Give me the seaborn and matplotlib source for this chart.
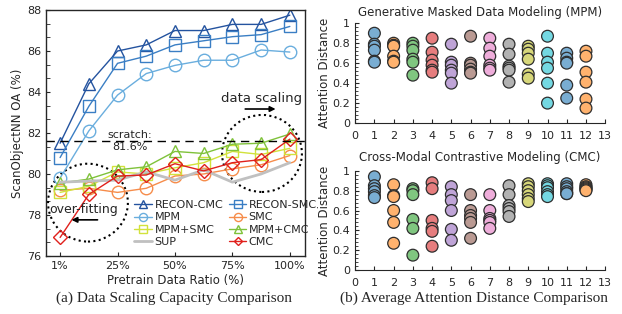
import numpy as np
import pandas as pd
import matplotlib
matplotlib.use("Agg")
import matplotlib.pyplot as plt
import seaborn as sns
from matplotlib.patches import Ellipse
from matplotlib.ticker import MultipleLocator

# -------- Data: (a) data scaling --------
ratio_labels = ["1%", "25%", "50%", "75%", "100%"]
ratio_steps = [0, 1, 2, 3, 4, 5, 6, 7, 8]   # 1%, 12.5%, ..., 100%

recon_cmc = [81.5, 84.4, 86.0, 86.3, 87.0, 87.0, 87.3, 87.3, 87.75]
recon_smc = [80.8, 83.3, 85.4, 85.75, 86.3, 86.5, 86.7, 86.8, 87.2]
mpm       = [79.8, 82.1, 83.85, 84.9, 85.3, 85.55, 85.55, 86.05, 85.95]
smc       = [79.2, 79.3, 79.1, 79.3, 79.9, 80.0, 80.25, 80.45, 80.9]
mpm_smc   = [79.1, 79.4, 80.1, 80.0, 80.3, 80.55, 81.1, 80.95, 81.25]
mpm_cmc   = [79.55, 79.75, 80.2, 80.35, 81.1, 81.0, 81.45, 81.5, 81.95]
sup       = [79.6, 79.65, 79.7, 80.1, 79.7, 80.2, 79.6, 80.0, 80.55]
cmc       = [76.9, 79.0, 79.9, 79.95, 80.5, 80.15, 80.55, 80.7, 81.7]
scratch = 81.6

# -------- Data: (b) attention distance per layer --------
layers = list(range(1, 13))
mpm_dist = [
    [0.90, 0.79, 0.77, 0.73, 0.62, 0.61],
    [0.80, 0.78, 0.77, 0.67, 0.62, 0.61],
    [0.80, 0.77, 0.73, 0.64, 0.61, 0.48],
    [0.85, 0.71, 0.63, 0.58, 0.53, 0.51],
    [0.79, 0.61, 0.58, 0.53, 0.50, 0.40],
    [0.87, 0.60, 0.58, 0.54, 0.51, 0.50],
    [0.85, 0.75, 0.67, 0.58, 0.55, 0.53],
    [0.79, 0.69, 0.57, 0.55, 0.53, 0.41],
    [0.77, 0.74, 0.70, 0.64, 0.49, 0.45],
    [0.87, 0.70, 0.61, 0.55, 0.40, 0.20],
    [0.70, 0.65, 0.61, 0.60, 0.38, 0.25],
    [0.72, 0.67, 0.51, 0.41, 0.24, 0.15],
]
cmc_dist = [
    [0.94, 0.85, 0.82, 0.79, 0.75, 0.73],
    [0.86, 0.75, 0.74, 0.60, 0.48, 0.27],
    [0.82, 0.80, 0.76, 0.51, 0.42, 0.15],
    [0.88, 0.82, 0.50, 0.42, 0.39, 0.24],
    [0.84, 0.76, 0.70, 0.60, 0.41, 0.30],
    [0.76, 0.60, 0.55, 0.52, 0.48, 0.32],
    [0.76, 0.60, 0.52, 0.50, 0.48, 0.42],
    [0.85, 0.76, 0.65, 0.62, 0.59, 0.54],
    [0.87, 0.84, 0.80, 0.76, 0.72, 0.69],
    [0.87, 0.85, 0.83, 0.79, 0.76, 0.74],
    [0.87, 0.84, 0.82, 0.79, 0.77, 0.77],
    [0.86, 0.84, 0.83, 0.82, 0.81, 0.80],
]

sns.set_style("ticks")
plt.rcParams["font.family"] = ["DejaVu Sans"]
plt.rcParams["font.size"] = 8

fig = plt.figure(figsize=(6.22, 3.14), dpi=100)
ax = fig.add_axes([0.074, 0.185, 0.416, 0.783])

series = [
    ("RECON-CMC", recon_cmc, "#24539f", "^"),
    ("RECON-SMC", recon_smc, "#3a7ec4", "s"),
    ("MPM", mpm, "#6aaede", "o"),
    ("SMC", smc, "#f68c4a", "o"),
    ("MPM+SMC", mpm_smc, "#d2e23c", "s"),
    ("MPM+CMC", mpm_cmc, "#7fc23a", "^"),
    ("SUP", sup, "#c0c0c0", None),
    ("CMC", cmc, "#e0201c", "D"),
]

handles = {}
for name, vals, c, m in series:
    if m is None:
        sns.lineplot(x=ratio_steps, y=vals, color=c, linewidth=2, ax=ax, label=name)
    else:
        ms = 7 if m == "D" else 9
        sns.lineplot(x=ratio_steps, y=vals, color=c, linewidth=1, marker=m,
                     markersize=ms, markerfacecolor="none", markeredgecolor=c,
                     markeredgewidth=1, ax=ax, label=name)
    handles[name] = ax.get_lines()[-1]

ax.axhline(scratch, color="black", linestyle=(0, (6, 4)), linewidth=1)
ax.text(2.43, 81.9, "scratch:", ha="center", va="center", fontsize=8)
ax.text(2.43, 81.3, f"{scratch}%", ha="center", va="center", fontsize=8)

# dotted circles
ax.add_patch(Ellipse((7.03, 81.0), 2.78, 3.76, fill=False, linestyle=(0, (1, 1.6)),
                     linewidth=1.5, edgecolor="black", clip_on=False))
ax.add_patch(Ellipse((0.97, 78.6), 2.78, 3.8, fill=False, linestyle=(0, (1, 1.6)),
                     linewidth=1.5, edgecolor="black", clip_on=False))
ax.text(7.03, 83.7, "data scaling", ha="center", va="center", fontsize=9.5)
ax.annotate("", xy=(7.6, 83.17), xytext=(6.35, 83.17),
            arrowprops=dict(arrowstyle="-|>", color="black", lw=1.2, mutation_scale=8))
ax.text(0.83, 78.25, "over-fitting", ha="center", va="center", fontsize=9)
ax.annotate("", xy=(0.3, 77.76), xytext=(1.4, 77.76),
            arrowprops=dict(arrowstyle="-|>", color="black", lw=1.2, mutation_scale=8))

ax.set_xlim(-0.49, 8.52)
ax.set_ylim(76, 88)
ax.set_xticks([0, 2, 4, 6, 8])
ax.set_xticklabels(ratio_labels)
ax.set_yticks([76, 78, 80, 82, 84, 86, 88])
ax.yaxis.set_minor_locator(MultipleLocator(2 / 3))
ax.tick_params(direction="in", length=3, labelsize=8)
ax.tick_params(which="minor", direction="in", length=3)
ax.set_xlabel("Pretrain Data Ratio (%)", fontsize=8.5, labelpad=2)
ax.set_ylabel("ScanObjectNN OA (%)", fontsize=8.5, labelpad=2)
for s in ax.spines.values():
    s.set_visible(True)
    s.set_linewidth(1)

order = ["RECON-CMC", "MPM", "MPM+SMC", "SUP", "RECON-SMC", "SMC", "MPM+CMC", "CMC"]
ax.legend([handles[n] for n in order], order, ncol=2, loc="upper left",
          bbox_to_anchor=(0.32, 0.25), frameon=False, fontsize=8, borderpad=0,
          handlelength=1.6, handletextpad=0.2, columnspacing=0.5, labelspacing=0.22,
          markerscale=0.65)

fig.text(0.279, 0.05, "(a) Data Scaling Capacity Comparison", ha="center", va="center",
         fontsize=11, family="Liberation Serif")

# -------- (b) attention distance --------
base = sns.color_palette("tab10", 10)
pal = [tuple(0.6 * np.array(base[(l - 1) % 10]) + 0.4) for l in layers]


def scatter_panel(rect, dist, title, title_pad):
    a = fig.add_axes(rect)
    df = pd.DataFrame({
        "layer": np.repeat(layers, [len(d) for d in dist]),
        "dist": [v for d in dist for v in d],
    })
    sns.scatterplot(data=df, x="layer", y="dist", hue="layer", palette=pal, s=72,
                    edgecolor="#2e2e2e", linewidth=0.9, legend=False, ax=a, zorder=3,
                    clip_on=False)
    a.set_xlim(0, 13)
    a.set_ylim(0, 1)
    a.set_xticks(range(0, 14))
    a.set_yticks([0, 0.2, 0.4, 0.6, 0.8, 1])
    a.set_yticklabels(["0", "0.2", "0.4", "0.6", "0.8", "1"])
    a.yaxis.set_minor_locator(MultipleLocator(0.04))
    a.tick_params(direction="in", length=3, labelsize=8)
    a.tick_params(axis="x", pad=6)
    a.tick_params(which="minor", direction="in", length=2)
    a.set_xlabel("")
    a.set_ylabel("Attention Distance", fontsize=8.5, labelpad=1)
    a.set_title(title, fontsize=8.5, pad=title_pad)
    sns.despine(ax=a)
    return a


scatter_panel([0.571, 0.608, 0.402, 0.318], mpm_dist,
              "Generative Masked Data Modeling (MPM)", 5)
scatter_panel([0.571, 0.14, 0.402, 0.316], cmc_dist,
              "Cross-Modal Contrastive Modeling (CMC)", 7)

fig.text(0.762, 0.05, "(b) Average Attention Distance Comparison", ha="center",
         va="center", fontsize=11, family="Liberation Serif")

plt.savefig("out.png", dpi=100)
plt.close()
